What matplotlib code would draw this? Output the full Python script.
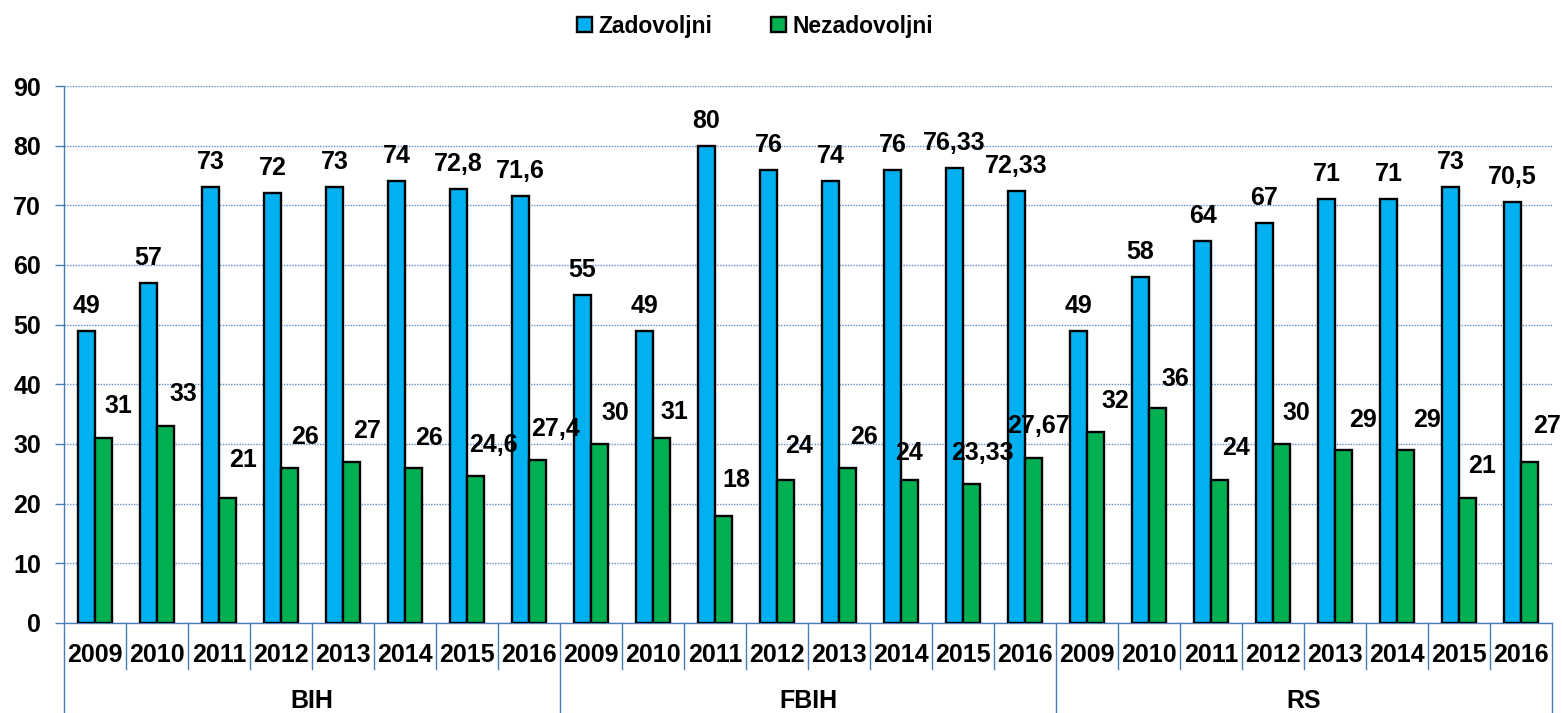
import matplotlib
matplotlib.use("Agg")
import matplotlib.pyplot as plt
import numpy as np

plt.rcParams['font.family'] = ['Liberation Sans', 'DejaVu Sans']
plt.rcParams['font.weight'] = 'bold'

# ---------------- data ----------------
regions = ['BIH', 'FBIH', 'RS']
years = ['2009', '2010', '2011', '2012', '2013', '2014', '2015', '2016']

zadovoljni = [49, 57, 73, 72, 73, 74, 72.8, 71.6,
              55, 49, 80, 76, 74, 76, 76.33, 72.33,
              49, 58, 64, 67, 71, 71, 73, 70.5]
nezadovoljni = [31, 33, 21, 26, 27, 26, 24.6, 27.4,
                30, 31, 18, 24, 26, 24, 23.33, 27.67,
                32, 36, 24, 30, 29, 29, 21, 27]

# label nudges for the green series (pixels), as placed in the original
green_dx = [15, 18, 16, 16, 16, 16, 18, 18,
            16, 13, 13, 14, 17, 0, 11, 5,
            20, 18, 17, 15, 20, 22, 15, 18]
green_dy = [32, 32, 38, 31, 31, 30, 31, 31,
            31, 26, 36, 34, 31, 27, 31, 32,
            31, 29, 32, 31, 30, 30, 32, 36]

BLUE = '#00B0F0'
GREEN = '#00B050'
AXBLUE = '#4A7EBB'
GRID = '#5B8FCB'


def fmt(v):
    s = ('%g' % v)
    return s.replace('.', ',')


fig = plt.figure(figsize=(15.62, 7.13), dpi=100)
ax = fig.add_axes([64 / 1562, 1 - 623 / 713, (1552 - 64) / 1562, (623 - 86) / 713])

n = len(zadovoljni)
x = np.arange(n)
w = 0.274
bx = x + 0.5 - w / 2
gx = x + 0.5 + w / 2

b1 = ax.bar(bx, zadovoljni, width=w, color=BLUE, edgecolor='black', linewidth=1.7,
            label='Zadovoljni', zorder=3)
b2 = ax.bar(gx, nezadovoljni, width=w, color=GREEN, edgecolor='black', linewidth=1.7,
            label='Nezadovoljni', zorder=3)

for i in range(n):
    ax.annotate(fmt(zadovoljni[i]), (bx[i], zadovoljni[i]), xytext=(0, 25),
                textcoords='offset pixels', ha='center', va='center',
                fontsize=18, fontweight='bold', zorder=5)
    ax.annotate(fmt(nezadovoljni[i]), (gx[i], nezadovoljni[i]),
                xytext=(green_dx[i], green_dy[i]),
                textcoords='offset pixels', ha='center', va='center',
                fontsize=18, fontweight='bold', zorder=5)

ax.set_xlim(0, n)
ax.set_ylim(0, 90)
ax.set_yticks(np.arange(0, 91, 10))
ax.yaxis.grid(True, linestyle=(0, (1, 1)), color=GRID, linewidth=1.0, zorder=0)
ax.tick_params(axis='y', direction='out', length=6.5, width=1, color=AXBLUE,
               labelsize=18, pad=10)
for lab in ax.get_yticklabels():
    lab.set_fontweight('bold')
ax.set_xticks([])

for s in ['top', 'right']:
    ax.spines[s].set_visible(False)
ax.spines['left'].set_visible(False)
ax.spines['bottom'].set_color(AXBLUE)
ax.spines['bottom'].set_linewidth(1.0)

# category separators below the axis
ax_h = 537.0
short = -46 / ax_h
long_ = -90 / ax_h
trans = ax.get_xaxis_transform()
for k in range(n + 1):
    y0 = long_ if k % 8 == 0 else short
    top = 1.0 if k == 0 else 0
    ax.plot([k, k], [y0, top], color=AXBLUE, linewidth=1.0, transform=trans,
            clip_on=False, zorder=4)

for i in range(n):
    ax.text(i + 0.5, -32 / ax_h, years[i % 8], transform=trans, ha='center',
            va='center', fontsize=18, fontweight='bold')
for j, r in enumerate(regions):
    ax.text(j * 8 + 4, -78 / ax_h, r, transform=trans, ha='center',
            va='center', fontsize=18, fontweight='bold')

leg = fig.legend(handles=[b1, b2], loc='center', bbox_to_anchor=(755 / 1562, 1 - 26 / 713),
                 ncol=2, frameon=False, handlelength=0.65,
                 handleheight=0.65, handletextpad=0.25, columnspacing=2.6,
                 prop={'weight': 'bold', 'size': 16.5})

fig.savefig('out.png', dpi=100)
